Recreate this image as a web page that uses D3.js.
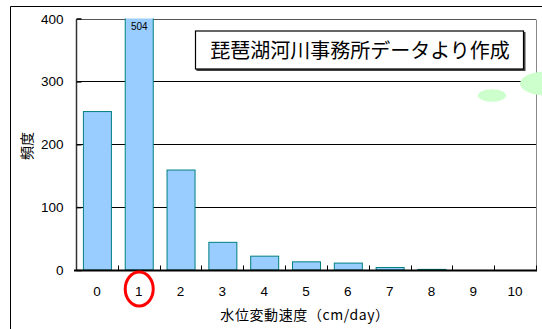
<!DOCTYPE html>
<html>
<head>
<meta charset="utf-8">
<script src="https://cdn.jsdelivr.net/npm/d3@7"></script>
<style>
  html, body { margin: 0; padding: 0; background: #fff; }
  svg { display: block; }
  text { font-family: "Liberation Sans", Arial, "Noto Sans CJK JP", sans-serif; fill: #000; }
  .jp { font-family: "Noto Sans CJK JP", "Liberation Sans", sans-serif; }
</style>
</head>
<body>
<svg id="chart" width="542" height="329"></svg>
<script>
// Water-level change speed (cm/day) vs. frequency
const categories = ["0", "1", "2", "3", "4", "5", "6", "7", "8", "9", "10"];
const frequency = [252, 504, 159, 44, 22, 13, 11, 4, 1, 0, 0];
const yTicks = [0, 100, 200, 300, 400];
const yMax = 400;
const highlighted = "1";
const labelled = "1";
const sourceNote = "琵琶湖河川事務所データより作成";
const yTitle = "頻度";
const xTitle = "水位変動速度（cm/day）";

const svg = d3.select("#chart");
const plot = { left: 76, right: 536, top: 18.5, bottom: 270 };

const x = d3.scaleBand()
  .domain(categories)
  .range([plot.left, plot.right])
  .paddingInner(0.33)
  .paddingOuter(0.165);

const y = d3.scaleLinear()
  .domain([0, yMax])
  .range([plot.bottom, plot.top]);

// outer chart frame (runs off the right and bottom edge)
svg.append("path")
  .attr("d", "M10.5,340 V6.5 H550")
  .attr("fill", "none")
  .attr("stroke", "#000")
  .attr("stroke-width", 1);

// clip for bars taller than the axis maximum
svg.append("defs").append("clipPath").attr("id", "plotClip")
  .append("rect")
  .attr("x", plot.left).attr("y", plot.top)
  .attr("width", plot.right - plot.left).attr("height", plot.bottom - plot.top);

// horizontal gridlines
svg.append("g")
  .selectAll("line")
  .data(yTicks.filter(d => d > 0))
  .join("line")
  .attr("x1", plot.left).attr("x2", plot.right)
  .attr("y1", d => Math.round(y(d)) + 0.5).attr("y2", d => Math.round(y(d)) + 0.5)
  .attr("stroke", d => d === yMax ? "#555" : "#000")
  .attr("stroke-width", 1);

// right border of plot area
svg.append("line")
  .attr("x1", plot.right + 0.5).attr("x2", plot.right + 0.5)
  .attr("y1", Math.round(y(yMax)) + 0.5).attr("y2", plot.bottom)
  .attr("stroke", "#888").attr("stroke-width", 1);

// bars
svg.append("g")
  .attr("clip-path", "url(#plotClip)")
  .selectAll("rect")
  .data(categories.map((c, i) => ({ c, v: frequency[i] })))
  .join("rect")
  .attr("x", d => x(d.c) + 0.5)
  .attr("y", d => y(d.v))
  .attr("width", x.bandwidth())
  .attr("height", d => Math.max(0, y(0) - y(d.v)))
  .attr("fill", "#99CCFF")
  .attr("stroke", "#008080")
  .attr("stroke-width", 1);

// value label for the clipped bar
const li = categories.indexOf(labelled);
svg.append("text")
  .attr("x", x(labelled) + x.bandwidth() / 2 + 0.5)
  .attr("y", plot.top + 11)
  .attr("text-anchor", "middle")
  .attr("font-size", 10)
  .text(frequency[li]);

// y axis
const yAxis = svg.append("g")
  .attr("transform", `translate(${plot.left + 0.5},0)`)
  .call(d3.axisLeft(y).tickValues(yTicks).tickSize(-5).tickPadding(13).tickFormat(d3.format("d")));
yAxis.select(".domain").attr("stroke", "#333").attr("stroke-width", 1.5).attr("d", `M0,${plot.bottom}V${Math.round(y(yMax)) + 0.5}`);
yAxis.selectAll(".tick line").attr("stroke", "#000").attr("stroke-width", 1.5);
yAxis.selectAll(".tick text").attr("font-size", 13.5).attr("dy", "0.34em")
  .style("font-family", "'Liberation Sans', Arial, sans-serif");

// x axis: labels under categories, ticks at category boundaries
const xAxis = svg.append("g")
  .attr("transform", `translate(0,${plot.bottom})`)
  .call(d3.axisBottom(x).tickSize(0).tickPadding(16));
xAxis.select(".domain").remove();
xAxis.selectAll(".tick text").attr("font-size", 13.5)
  .style("font-family", "'Liberation Sans', Arial, sans-serif");

const bounds = d3.range(categories.length + 1).map(i => plot.left + i * x.step());
svg.append("line")
  .attr("x1", plot.left - 2).attr("x2", plot.right + 1)
  .attr("y1", plot.bottom + 0.5).attr("y2", plot.bottom + 0.5)
  .attr("stroke", "#000").attr("stroke-width", 2);
svg.append("g")
  .selectAll("line")
  .data(bounds.slice(1))
  .join("line")
  .attr("x1", d => Math.round(d) + 0.5).attr("x2", d => Math.round(d) + 0.5)
  .attr("y1", plot.bottom - 4.5).attr("y2", plot.bottom + 1)
  .attr("stroke", "#000").attr("stroke-width", 1);

// axis titles
svg.append("text")
  .attr("class", "jp")
  .attr("transform", "translate(32,146) rotate(-90)")
  .attr("text-anchor", "middle")
  .attr("font-size", 14)
  .text(yTitle);

svg.append("text")
  .attr("class", "jp")
  .attr("x", 305)
  .attr("y", 320)
  .attr("text-anchor", "middle")
  .attr("font-size", 14)
  .attr("letter-spacing", 0.6)
  .text(xTitle);

// highlight ring round the chosen category label
svg.append("ellipse")
  .attr("cx", x(highlighted) + x.bandwidth() / 2 + 0.5)
  .attr("cy", 289)
  .attr("rx", 14)
  .attr("ry", 17)
  .attr("fill", "none")
  .attr("stroke", "#FF0000")
  .attr("stroke-width", 3);

// source note box
svg.append("rect")
  .attr("x", 196.5).attr("y", 32)
  .attr("width", 329).attr("height", 39)
  .attr("fill", "#444");
svg.append("rect")
  .attr("x", 195.5).attr("y", 31)
  .attr("width", 328).attr("height", 38)
  .attr("fill", "#fff")
  .attr("stroke", "#000")
  .attr("stroke-width", 1.2);
svg.append("text")
  .attr("class", "jp")
  .attr("x", 360)
  .attr("y", 51)
  .attr("dy", "0.36em")
  .attr("text-anchor", "middle")
  .attr("font-size", 20)
  .text(sourceNote);

// decorative light-green blobs
svg.append("ellipse")
  .attr("cx", 492).attr("cy", 95.5).attr("rx", 14).attr("ry", 6.3)
  .attr("fill", "#CCFFCC");
svg.append("ellipse")
  .attr("cx", 546).attr("cy", 83.5).attr("rx", 26).attr("ry", 12)
  .attr("fill", "#CCFFCC");
</script>
</body>
</html>
